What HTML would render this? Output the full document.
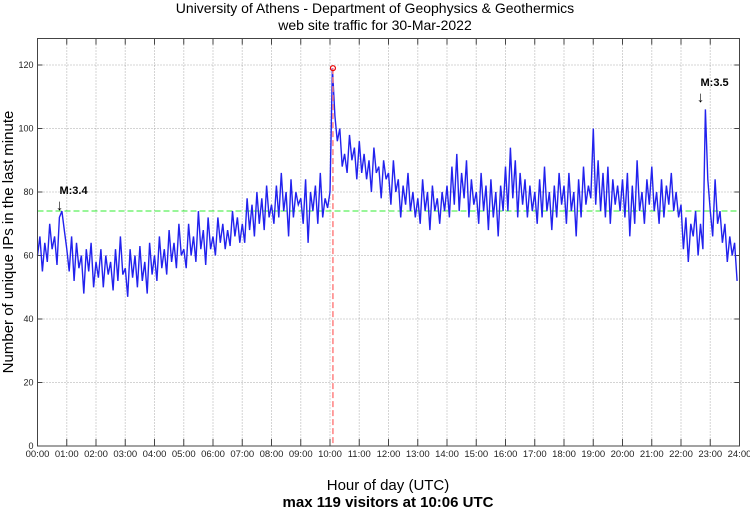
<!DOCTYPE html>
<html><head><meta charset="utf-8"><style>
body{margin:0;background:#fff;font-family:"Liberation Sans",sans-serif}
svg text{font-family:"Liberation Sans",sans-serif}
</style></head><body>
<svg id="chart" width="750" height="511" viewBox="0 0 750 511" xmlns="http://www.w3.org/2000/svg">
<text x="375" y="13" font-size="14" text-anchor="middle">University of Athens - Department of Geophysics &amp; Geothermics</text>
<text x="375" y="30" font-size="14" text-anchor="middle">web site traffic for 30-Mar-2022</text>
<text transform="translate(13,242) rotate(-90)" font-size="15" text-anchor="middle">Number of unique IPs in the last minute</text>
<text x="388" y="490" font-size="15" text-anchor="middle">Hour of day (UTC)</text>
<text x="388" y="507" font-size="15" font-weight="bold" text-anchor="middle">max 119 visitors at 10:06 UTC</text>
<g id="grid"></g><g id="series"></g><g id="ann"></g>
<rect x="37.5" y="38.5" width="702" height="407.5" fill="none" stroke="#444" stroke-width="1"/>
</svg>
<script>
const yTicks=[0,20,40,60,80,100,120];
const xHours=[0,1,2,3,4,5,6,7,8,9,10,11,12,13,14,15,16,17,18,19,20,21,22,23,24];
const baseline=74;
const maxValue=119, maxMinute=606;
const quakes=[{minute:45,value:74,label:"M:3.4"},{minute:1360,value:108,label:"M:3.5"}];
const values=[
60,66,55,64,58,70,62,66,57,72,74,68,
62,55,66,52,64,56,60,48,62,55,64,50,
58,53,62,50,60,54,58,49,62,52,66,54,
56,47,62,53,60,50,63,52,58,48,64,54,
60,52,66,56,62,54,68,58,64,56,70,60,
62,56,70,60,66,58,74,62,68,57,72,62,
66,60,72,64,70,62,68,63,74,66,72,64,
70,64,78,68,76,66,80,70,78,68,82,72,
76,70,82,72,86,74,80,66,84,72,80,76,
78,70,84,64,80,74,82,70,86,72,78,75,
80,119,104,96,100,88,92,86,98,90,94,84,
96,86,92,84,90,80,94,86,88,78,90,84,
86,76,90,80,84,72,82,76,86,74,80,72,
78,70,84,74,80,68,82,74,78,70,80,74,
82,72,88,76,92,74,86,78,90,72,84,76,
80,70,86,74,82,68,84,72,80,66,82,74,
88,74,94,78,90,72,86,76,84,72,82,74,
80,70,84,72,88,74,80,68,82,72,86,76,
82,70,86,74,80,66,84,72,88,76,82,78,
100,76,90,74,86,72,88,70,84,76,82,74,
84,72,86,66,82,70,90,74,80,70,84,76,
88,74,80,70,84,72,82,76,86,74,80,72,
76,62,72,58,70,66,74,60,70,62,106,84,
74,66,84,70,74,64,70,58,66,60,64,52];
const stepMin=5;
const L=37.5,R=739.5,T=38.5,B=446;
const x=m=>L+(R-L)*m/1440;
const y=v=>B-(B-65)*v/120;
const NS="http://www.w3.org/2000/svg";
function mk(tag,attrs,parent,txt){const e=document.createElementNS(NS,tag);for(const k in attrs)e.setAttribute(k,attrs[k]);if(txt!==undefined)e.textContent=txt;parent.appendChild(e);return e;}
const grid=document.getElementById('grid'),ser=document.getElementById('series'),ann=document.getElementById('ann');
yTicks.forEach(v=>{
 if(v>0){const g=mk('line',{x1:L,x2:R,y1:y(v),y2:y(v),stroke:'#aaa','stroke-dasharray':'1,2'},grid);
 
 }
 mk('line',{x1:L,x2:L+5,y1:y(v),y2:y(v),stroke:'#444'},grid);
 mk('line',{x1:R-5,x2:R,y1:y(v),y2:y(v),stroke:'#444'},grid);
 const t=mk('text',{x:L-4,y:y(v)+3,'font-size':9,'text-anchor':'end',fill:'#222'},grid,String(v));
 
 
});
xHours.forEach(h=>{
 const xx=x(h*60);
 if(h>0&&h<24){const g=mk('line',{x1:xx,x2:xx,y1:T,y2:B,stroke:'#aaa','stroke-dasharray':'1,2'},grid);
 
 }
 mk('line',{x1:xx,x2:xx,y1:B-7,y2:B,stroke:'#444'},grid);
 mk('line',{x1:xx,x2:xx,y1:T,y2:T+6,stroke:'#444'},grid);
 const t=mk('text',{x:xx,y:B+11,'font-size':9.5,'text-anchor':'middle',fill:'#222'},grid,(h<10?'0':'')+h+':00');
 
 
});
const bl=mk('line',{x1:L,x2:R,y1:y(baseline),y2:y(baseline),stroke:'#33ee33','stroke-dasharray':'6,3','stroke-width':1},ser);


const pts=values.map((v,i)=>x(i*stepMin).toFixed(1)+','+y(v).toFixed(1)).join(' ');
const pl=mk('polyline',{points:pts,fill:'none',stroke:'#2222ee','stroke-width':1.4},ser);


const ml=mk('line',{x1:x(maxMinute),x2:x(maxMinute),y1:y(maxValue),y2:B,stroke:'#ff8080','stroke-dasharray':'6,3','stroke-width':1.5},ann);


const mc=mk('circle',{cx:x(maxMinute),cy:y(maxValue),r:2.5,fill:'none',stroke:'#ee0000','stroke-width':1.2},ann);


quakes.forEach(q=>{
 const xx=x(q.minute),yy=y(q.value);
 const a=mk('text',{x:xx,y:yy-1,'font-size':15,'text-anchor':'middle'},ann,'↓');
 
 
 const t=mk('text',{x:xx,y:yy-17,'font-size':11,'font-weight':'bold'},ann,q.label);
 
 
});
</script>
</body></html>
